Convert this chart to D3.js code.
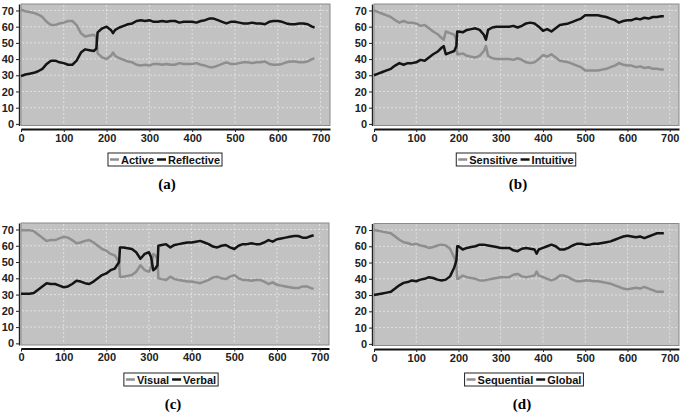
<!DOCTYPE html>
<html>
<head>
<meta charset="utf-8">
<script src="https://cdn.jsdelivr.net/npm/d3@7"></script>
<style>
  body { margin: 0; background: #fff; }
  svg { display: block; }
</style>
</head>
<body>
<script>
// axis ticks shared by all four panels
const xTicks = [0, 100, 200, 300, 400, 500, 600, 700];
const yTicks = [0, 10, 20, 30, 40, 50, 60, 70];

// (a) Active / Reflective
const stepsA = [0,10,20,30,40,50,60,70,80,90,100,110,120,130,140,150,160,170,176,179,190,200,210,215,220,
  230,240,250,260,270,280,290,300,310,320,330,340,350,360,370,380,390,400,410,420,430,440,450,460,470,480,
  490,500,510,520,530,540,550,560,570,580,590,600,610,620,630,640,650,660,670,680,686];
const activeVals = [70.5,69.5,69,68.5,67.5,66,63,61,61,62,62.5,63.5,63.5,61,56,54,54.5,55,53.5,43.5,41,40,42,44,42,
  40.5,39.5,38.5,38,36.5,36,36.5,36,37,37,36.5,37,36.5,36.5,37.5,37,37,37,37.5,36.5,36,35,35,36,37,38,
  37,37,37.5,38,38,37.5,38,38,38.5,37,36.5,36.5,37,38,38.5,38.5,38,38,38.5,40,40.5];
const reflectiveVals = [29.5,30.5,31,31.5,32.5,34,37,39,39,38,37.5,36.5,36.5,39,44,46,45.5,45,46.5,56.5,59,60,58,56,58,
  59.5,60.5,61.5,62,63.5,64,63.5,64,63,63,63.5,63,63.5,63.5,62.5,63,63,63,62.5,63.5,64,65,65,64,63,62,
  63,63,62.5,62,62,62.5,62,62,61.5,63,63.5,63.5,63,62,61.5,61.5,62,62,61.5,60,59.5];

// (b) Sensitive / Intuitive
const stepsB = [0,10,20,30,40,50,60,70,80,90,100,110,120,130,140,150,160,165,170,180,190,195,197,
  200,210,220,230,240,250,260,265,270,280,290,300,310,320,330,340,350,360,370,380,390,400,410,420,430,440,
  450,460,470,480,490,500,510,520,530,540,550,560,570,580,590,600,610,620,630,640,650,660,670,680,686];
const sensitiveVals = [70,69,68,67,66,64,62.5,63.5,62.5,62.5,62,60.5,61,59,57,55.5,53,52,57,56,55,52,43,
  43,43.5,42,41.5,41,42,45,48,42,40.5,40,40,40,40,39.5,40.5,39.5,38,37.5,38,40,42.5,41.5,43,41,39,
  38.5,38,37,36,35,33,33,33,33,33.5,34,35,36,37.5,36.5,36,36,35,35.5,34.5,35,34,34,33.5,33.5];
const intuitiveVals = [30,31,32,33,34,36,37.5,36.5,37.5,37.5,38,39.5,39,41,43,44.5,47,48,43,44,45,48,57,
  57,56.5,58,58.5,59,58,55,52,58,59.5,60,60,60,60,60.5,59.5,60.5,62,62.5,62,60,57.5,58.5,57,59,61,
  61.5,62,63,64,65,67,67,67,67,66.5,66,65,64,62.5,63.5,64,64,65,64.5,65.5,65,66,66,66.5,66.5];

// (c) Visual / Verbal
const stepsC = [0,10,20,30,40,50,60,70,80,90,100,110,120,130,140,150,160,170,180,190,200,210,220,225,230,232,
  240,250,260,270,280,290,300,305,310,315,320,322,330,340,350,360,370,380,390,400,410,420,430,440,450,460,
  470,480,490,500,510,520,530,540,550,560,570,580,590,600,610,620,630,640,650,660,670,680,686];
const visualVals = [69.5,69.5,69.5,69,67,65,63,63.5,63.5,64.5,65.5,65,63.5,61.5,62,63,63.5,62,60,58,57,55,54,52,50,41,
  41,41.5,42,44,48,45,44,47,55,54,52,40,39.5,39,41,39.5,39,38.5,38,38,37.5,37,38,39,40.5,41,
  40,39.5,41,42,40,39,39,38.5,39,39,38,36.5,37.5,36,35.5,35,34.5,34,34,35,35,34,33.5];
const verbalVals = [30.5,30.5,30.5,31,33,35,37,36.5,36.5,35.5,34.5,35,36.5,38.5,38,37,36.5,38,40,42,43,45,46,48,50,59,
  59,58.5,58,56,52,55,56,53,45,46,48,60,60.5,61,59,60.5,61,61.5,62,62,62.5,63,62,61,59.5,59,
  60,60.5,59,58,60,61,61,61.5,61,61,62,63.5,62.5,64,64.5,65,65.5,66,66,65,65,66,66.5];

// (d) Sequential / Global
const stepsD = [0,10,20,30,40,50,60,70,80,90,100,110,120,130,140,150,160,170,180,190,195,197,
  200,210,220,230,240,250,260,270,280,290,300,310,320,330,340,350,360,370,380,385,
  390,400,410,420,430,440,450,460,470,480,490,500,510,520,530,540,550,560,570,580,590,600,610,620,630,640,
  650,660,670,680,686];
const sequentialVals = [70,69.5,69,68.5,68,66,64,62.5,62,61,61.5,60.5,60,59,59.5,60.5,61,60.5,58.5,53,49,40,
  40,42,41,40.5,40,39,39,39.5,40,40.5,41,41,41,42.5,43,41.5,41,41.5,42,44.5,
  42,41,40,39,40,42,42,41,39.5,38.5,38.5,39,39,38.5,38.5,38,37.5,37,36,35,34,33.5,34,34.5,34,35,
  34,33,32,32,32];
const globalVals = [30,30.5,31,31.5,32,34,36,37.5,38,39,38.5,39.5,40,41,40.5,39.5,39,39.5,41.5,47,51,60,
  60,58,59,59.5,60,61,61,60.5,60,59.5,59,59,59,57.5,57,58.5,59,58.5,58,55.5,
  58,59,60,61,60,58,58,59,60.5,61.5,61.5,61,61,61.5,61.5,62,62.5,63,64,65,66,66.5,66,65.5,66,65,
  66,67,68,68,68];

const GRAY_LINE = "#8e8e8e";
const DARK_LINE = "#141414";
const AXIS_FONT = "'Liberation Sans Narrow', 'Arial Narrow', 'Liberation Sans', sans-serif";

const panels = [
  {steps: stepsA, names: ["Active", "Reflective"], vals: [activeVals, reflectiveVals], caption: "a",
    left: 21, right: 330, top: 4, bottom: 125.5, axisY: 129, legendX: 165, legendY: 153, capX: 167, capY: 189},
  {steps: stepsB, names: ["Sensitive", "Intuitive"], vals: [sensitiveVals, intuitiveVals], caption: "b",
    left: 374, right: 679, top: 4, bottom: 125.5, axisY: 129, legendX: 516, legendY: 153, capX: 518, capY: 189},
  {steps: stepsC, names: ["Visual", "Verbal"], vals: [visualVals, verbalVals], caption: "c",
    left: 21, right: 329, top: 223, bottom: 345, axisY: 348.5, legendX: 171, legendY: 373, capX: 173, capY: 409},
  {steps: stepsD, names: ["Sequential", "Global"], vals: [sequentialVals, globalVals], caption: "d",
    left: 374, right: 679, top: 223.5, bottom: 345.5, axisY: 349, legendX: 524, legendY: 373, capX: 522, capY: 409}
];

const svg = d3.select("body").append("svg")
  .attr("width", 685)
  .attr("height", 414);

svg.append("rect").attr("width", 685).attr("height", 414).attr("fill", "#fff");

function drawPanel(p){
  let g = svg.append("g");
  let x = d3.scaleLinear().domain([0, 722]).range([p.left, p.right]);
  let y = d3.scaleLinear().domain([-1, 74]).range([p.bottom, p.top]);

  //plot background
  g.append("rect")
    .attr("x", p.left).attr("y", p.top)
    .attr("width", p.right - p.left).attr("height", p.bottom - p.top)
    .attr("fill", "#c2c2c2")
    .attr("stroke", "#8a8a8a")
    .attr("stroke-width", 1);

  //grid
  g.selectAll(".hgrid").data(yTicks.slice(1)).join("line")
    .attr("x1", p.left + 1).attr("x2", p.right - 1)
    .attr("y1", d => y(d)).attr("y2", d => y(d))
    .attr("stroke", "#e8e8e8").attr("stroke-width", 0.8)
    .attr("stroke-dasharray", "2,2");
  g.selectAll(".vgrid").data(xTicks.slice(1)).join("line")
    .attr("x1", d => x(d)).attr("x2", d => x(d))
    .attr("y1", p.top + 1).attr("y2", p.bottom - 1)
    .attr("stroke", "#e8e8e8").attr("stroke-width", 0.8)
    .attr("stroke-dasharray", "2,2");

  //y axis
  let yAxis = g.append("g")
    .attr("transform", `translate(${p.left - 2},0)`)
    .call(d3.axisLeft(y).tickValues(yTicks).tickSize(3).tickSizeOuter(0).tickPadding(2));
  yAxis.select(".domain").attr("stroke", "#222").attr("stroke-width", 1.4);
  yAxis.selectAll(".tick line").attr("stroke", "#222");
  yAxis.selectAll("text")
    .attr("font-family", AXIS_FONT).attr("font-size", 11).attr("font-weight", "bold").attr("fill", "#222");

  //x axis
  let xAxis = g.append("g")
    .attr("transform", `translate(0,${p.axisY})`)
    .call(d3.axisBottom(x).tickValues(xTicks).tickSize(3).tickSizeOuter(0).tickPadding(2));
  xAxis.select(".domain").attr("stroke", "#111").attr("stroke-width", 2);
  xAxis.selectAll(".tick line").attr("stroke", "#222");
  xAxis.selectAll("text")
    .attr("font-family", AXIS_FONT).attr("font-size", 11).attr("font-weight", "bold").attr("fill", "#222");

  //series lines
  let colors = [GRAY_LINE, DARK_LINE];
  let line = d3.line().x(d => x(d[0])).y(d => y(d[1]));
  p.vals.forEach((vals, i) => {
    g.append("path")
      .datum(d3.zip(p.steps, vals))
      .attr("fill", "none")
      .attr("stroke", colors[i])
      .attr("stroke-width", 2.5)
      .attr("stroke-linejoin", "round")
      .attr("d", line);
  });

  //legend
  let lg = g.append("g");
  let box = lg.append("rect")
    .attr("fill", "#fff").attr("stroke", "#222").attr("stroke-width", 1);
  let cx = 0;
  p.names.forEach((name, i) => {
    lg.append("line")
      .attr("x1", cx + 2).attr("x2", cx + 11)
      .attr("y1", 6.5).attr("y2", 6.5)
      .attr("stroke", colors[i]).attr("stroke-width", 2.5);
    let t = lg.append("text")
      .attr("x", cx + 13).attr("y", 10.5)
      .attr("font-family", "'Liberation Sans', Arial, sans-serif")
      .attr("font-size", 11).attr("font-weight", "bold").attr("fill", "#111")
      .text(name);
    cx += 13 + t.node().getComputedTextLength() + 1;
  });
  let w = cx + 1;
  box.attr("x", 0).attr("y", 0).attr("width", w).attr("height", 13);
  lg.attr("transform", `translate(${p.legendX - w / 2},${p.legendY})`);

  //caption
  g.append("text")
    .attr("x", p.capX).attr("y", p.capY)
    .attr("text-anchor", "middle")
    .attr("font-family", "'Liberation Serif', 'Times New Roman', serif")
    .attr("font-size", 15).attr("font-weight", "bold").attr("fill", "#000")
    .text(`(${p.caption})`);
}

panels.forEach(drawPanel);
</script>
</body>
</html>
